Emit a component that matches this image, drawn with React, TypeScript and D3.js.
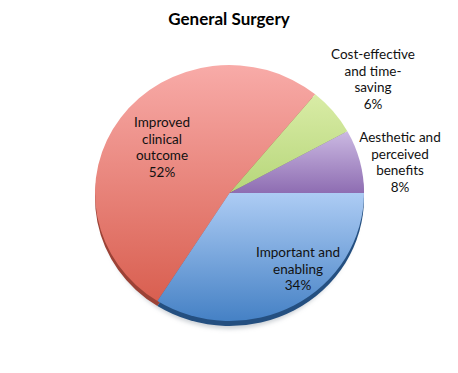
import React from "react";
import * as d3 from "d3";

const categories = [
  "Improved clinical outcome",
  "Cost-effective and time-saving",
  "Aesthetic and perceived benefits",
  "Important and enabling",
];
const values = [52, 6, 8, 34];
const labelLines = [
  ["Improved", "clinical", "outcome", "52%"],
  ["Cost-effective", "and time-", "saving", "6%"],
  ["Aesthetic and", "perceived", "benefits", "8%"],
  ["Important and", "enabling", "34%"],
];
const topColors = ["#f8aba8", "#d9eca6", "#cbb9e2", "#adccf4"];
const bottomColors = ["#d95f50", "#b6d67a", "#8e6db2", "#4581c5"];
const rimColors = ["#9c4236", "#7f9a52", "#5e477e", "#244f80"];
// label anchor centers (x) and first baseline (y)
const labelX = [162, 373, 400, 298];
const labelY = [127, 59, 142, 257];

const W = 458;
const H = 373;
const cx = 229.5;
const cy = 193;
const rx = 134.5;
const ry = 128;
const depth = 5;

export default function App() {
  const k = ry / rx;
  const pie = d3
    .pie<number>()
    .sort(null)
    .value((d) => d)
    .startAngle((212.4 * Math.PI) / 180)
    .endAngle((212.4 * Math.PI) / 180 + 2 * Math.PI);
  const arcs = pie(values);
  const arc = d3.arc<d3.PieArcDatum<number>>().innerRadius(0).outerRadius(rx);
  const font = "Lato, 'Open Sans', sans-serif";

  return (
    <svg width={W} height={H} style={{ position: "absolute", left: 0, top: 0, background: "#fff" }}>
      <defs>
        {values.map((_, i) => (
          <linearGradient key={i} id={`g${i}`} x1="0" y1="0" x2="0" y2="1">
            <stop offset="0" stopColor={topColors[i]} />
            <stop offset="1" stopColor={bottomColors[i]} />
          </linearGradient>
        ))}
        <filter id="blur" x="-10%" y="-10%" width="120%" height="130%">
          <feGaussianBlur stdDeviation="2" />
        </filter>
      </defs>
      <text
        x={229}
        y={25}
        textAnchor="middle"
        fontFamily={font}
        fontWeight="bold"
        fontSize={17}
        fill="#000"
      >
        General Surgery
      </text>
      {/* soft shadow */}
      <g transform={`translate(${cx},${cy + depth + 3}) scale(1,${k})`} filter="url(#blur)">
        <ellipse cx={0} cy={0} rx={rx - 4} ry={rx} fill="#9aa3ad" opacity={0.5} />
      </g>
      {/* side rim */}
      <g transform={`translate(${cx},${cy + depth}) scale(1,${k})`}>
        {arcs.map((a, i) => (
          <path key={i} d={arc(a) || ""} fill={rimColors[i]} />
        ))}
      </g>
      {/* top face */}
      <g transform={`translate(${cx},${cy}) scale(1,${k})`}>
        {arcs.map((a, i) => (
          <path key={i} d={arc(a) || ""} fill={`url(#g${i})`} />
        ))}
      </g>
      {labelLines.map((lines, i) => (
        <text
          key={i}
          textAnchor="middle"
          fontFamily={font}
          fontSize={13.5}
          fill="#111"
        >
          {lines.map((l, j) => (
            <tspan key={j} x={labelX[i]} y={labelY[i] + j * 16.6}>
              {l}
            </tspan>
          ))}
        </text>
      ))}
    </svg>
  );
}
